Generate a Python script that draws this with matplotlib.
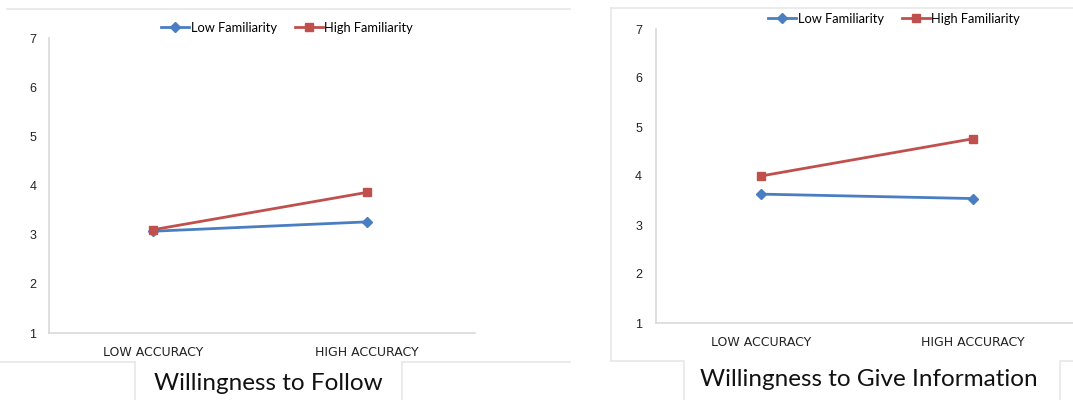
import matplotlib
matplotlib.use("Agg")
import matplotlib.pyplot as plt
from matplotlib.lines import Line2D

categories = ["LOW ACCURACY", "HIGH ACCURACY"]
series_names = ["Low Familiarity", "High Familiarity"]
follow_low_fam = [3.07, 3.26]
follow_high_fam = [3.10, 3.86]
give_low_fam = [3.63, 3.54]
give_high_fam = [4.00, 4.76]
yticks = [1, 2, 3, 4, 5, 6, 7]
titles = ["Willingness to Follow", "Willingness to Give Information"]

BLUE = "#4A7EC2"
RED = "#C0504D"
GRID = "#D9D9D9"
BORDER = "#E8E8E8"
W, H = 1073, 400

fig = plt.figure(figsize=(W / 100, H / 100), dpi=100)


def px_axes(x0, x1, ytop, ybot):
    return fig.add_axes([x0 / W, (H - ybot) / H, (x1 - x0) / W, (ybot - ytop) / H])


def hline(x0, x1, y, color=BORDER, lw=1.2):
    fig.add_artist(Line2D([x0 / W, x1 / W], [(H - y) / H, (H - y) / H], color=color, lw=lw))


def vline(x, y0, y1, color=BORDER, lw=1.2):
    fig.add_artist(Line2D([x / W, x / W], [(H - y0) / H, (H - y1) / H], color=color, lw=lw))


def draw_panel(ax, low, high, xlim, ylabel_pad):
    xs = list(range(len(categories)))
    ax.plot(xs, low, color=BLUE, lw=2.0, marker="D", ms=5.5, label=series_names[0], zorder=3)
    ax.plot(xs, high, color=RED, lw=2.0, marker="s", ms=6, label=series_names[1], zorder=3)
    ax.set_xlim(*xlim)
    ax.set_ylim(1, 7)
    ax.set_yticks(yticks)
    ax.set_yticklabels([str(v) for v in yticks], fontsize=9, color="#222222",
                       fontfamily="Liberation Sans")
    ax.set_xticks(xs)
    ax.set_xticklabels(categories, fontsize=9, color="#222222", fontfamily="DejaVu Sans")
    ax.tick_params(axis="both", length=0)
    ax.tick_params(axis="y", pad=ylabel_pad)
    ax.tick_params(axis="x", pad=9)
    for s in ["top", "right"]:
        ax.spines[s].set_visible(False)
    for s in ["left", "bottom"]:
        ax.spines[s].set_color(GRID)
        ax.spines[s].set_linewidth(1.2)
    ax.patch.set_alpha(0)


# Left panel
ax1 = px_axes(49, 475, 38, 333)
draw_panel(ax1, follow_low_fam, follow_high_fam, (-0.486, 1.505), 9)
# Right panel
ax2 = px_axes(656, 1073, 29, 323)
draw_panel(ax2, give_low_fam, give_high_fam, (-0.495, 1.472), 10)

for ax, (cx, cy) in [(ax1, (287, 28)), (ax2, (894, 19))]:
    ax.legend(loc="center", bbox_to_anchor=(cx / W, (H - cy) / H),
              bbox_transform=fig.transFigure, ncol=2, frameon=False,
              prop={"family": "Lato", "size": 9.3}, handlelength=2.2,
              handletextpad=0.1, columnspacing=1.4, borderpad=0, markerscale=0.9)

# Panel borders
hline(7, 570, 9)
hline(0, 135, 362)
hline(402, 570, 362)
vline(611, 8, 361)
hline(611, 1073, 8)
hline(611, 684, 361)
hline(1060, 1073, 361)
# Title boxes
vline(135, 362, 400)
vline(402, 362, 400)
vline(684, 362, 400)
vline(1060, 362, 400)

fig.text(268 / W, (H - 383) / H, titles[0], ha="center", va="center",
         fontsize=17.5, fontfamily="Lato", color="#111111")
fig.text(869 / W, (H - 379) / H, titles[1], ha="center", va="center",
         fontsize=17.5, fontfamily="Lato", color="#111111")

fig.savefig("out.png", dpi=100)
